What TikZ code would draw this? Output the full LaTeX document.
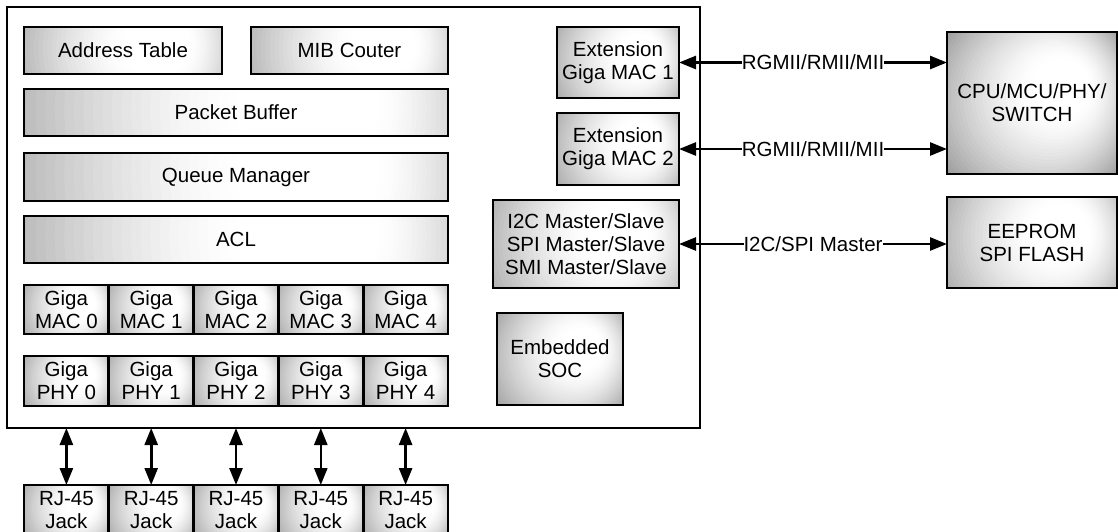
\documentclass[tikz,border=0pt]{standalone}
\usepackage{fontspec}
\setmainfont{Liberation Sans}
\usetikzlibrary{arrows.meta}

\definecolor{blkrim}{gray}{0.60}

% block from corner (x1,y1) to corner (x2,y2): a face lit from a spot up and to the
% right (nested discs whose centres slide from the spot to the middle), then outline and text
\newcommand\blk[6]{%
  \pgfmathsetmacro\bhw{((#4)-(#2))/2}%
  \pgfmathsetmacro\bhh{((#5)-(#3))/2}%
  \pgfmathsetmacro\bcx{((#2)+(#4))/2}%
  \pgfmathsetmacro\bcy{((#3)+(#5))/2}%
  \pgfmathsetmacro\bfx{\bcx+0.45*\bhw}%
  \pgfmathsetmacro\bfy{\bcy-0.3*\bhh}%
  \begin{scope}
    \clip (#2,#3) rectangle (#4,#5);
    \fill[blkrim] (#2,#3) rectangle (#4,#5);
    \foreach \k in {0,...,40} {
      \pgfmathsetmacro\bt{1-\k/40}%
      \pgfmathsetmacro\bu{max(0,(\bt-0.25)/0.75)}%
      \pgfmathsetmacro\bg{1-0.4*(\bu+0.0001)^1.5}%
      \definecolor{blkstep}{gray}{\bg}%
      \fill[blkstep] ({\bfx+(\bcx-\bfx)*\bt},{\bfy+(\bcy-\bfy)*\bt})
        circle[radius={1.35*\bhw*\bt+0.01}];
    }
  \end{scope}
  \node[blk, minimum width={(#4)-(#2)}, minimum height={(#5)-(#3)}]
    (#1) at (\bcx,\bcy) {#6};}

\begin{document}
\begin{tikzpicture}[x=1pt, y=-1pt,
  blk/.style={draw=black, line width=2.7pt,
    align=center, inner sep=0pt, outer sep=0pt,
    font=\fontsize{20.5}{23}\selectfont},
  chipbox/.style={draw=black, line width=2.6pt, fill=white, inner sep=0pt, outer sep=0pt},
  link/.style={line width=2.6pt,
    {Triangle[length=17pt,width=13pt]}-{Triangle[length=17pt,width=13pt]}},
  busname/.style={fill=white, inner sep=0pt, font=\fontsize{20.5}{23}\selectfont}]

\useasboundingbox (0,0) rectangle (1118,531);

% switch chip outline
\node[chipbox, minimum width=693, minimum height=421] (chip) at (353.5,217.5) {};

% core blocks
\blk{addr}{24}{27}{222}{74}{Address Table}
\blk{mib}{251}{27}{448}{74}{MIB Couter}
\blk{pbuf}{24}{89}{448}{136}{Packet Buffer}
\blk{qm}{24}{153}{448}{201}{Queue Manager}
\blk{acl}{24}{216}{448}{263}{ACL}

% per-port MAC, PHY and jack
\foreach \i in {0,...,4} {
  \pgfmathsetmacro\xa{24+84.8*\i}
  \pgfmathsetmacro\xb{24+84.8*(\i+1)}
  \blk{mac\i}{\xa}{285}{\xb}{334}{Giga\\MAC \i}
  \blk{phy\i}{\xa}{356}{\xb}{406}{Giga\\PHY \i}
  \blk{jack\i}{\xa}{485}{\xb}{535}{RJ-45\\Jack}
  \draw[link] (jack\i.north) -- (jack\i.north |- chip.south);
}

% extension interfaces
\blk{ext1}{557}{27}{679}{98}{Extension\\Giga MAC 1}
\blk{ext2}{557}{113}{679}{185}{Extension\\Giga MAC 2}
\blk{ctl}{493}{200}{679}{288}{I2C Master/Slave\\SPI Master/Slave\\SMI Master/Slave}
\blk{soc}{497}{313}{623}{405}{Embedded\\SOC}

% external devices
\blk{cpu}{947}{32}{1117}{174}{CPU/MCU/PHY/\\SWITCH}
\blk{rom}{947}{197}{1117}{288}{EEPROM\\SPI FLASH}

\draw[link] (ext1.east) -- node[busname] {RGMII/RMII/MII} (ext1.east -| cpu.west);
\draw[link] (ext2.east) -- node[busname] {RGMII/RMII/MII} (ext2.east -| cpu.west);
\draw[link] (ctl.east) -- node[busname] {I2C/SPI Master} (ctl.east -| rom.west);

\end{tikzpicture}
\end{document}
